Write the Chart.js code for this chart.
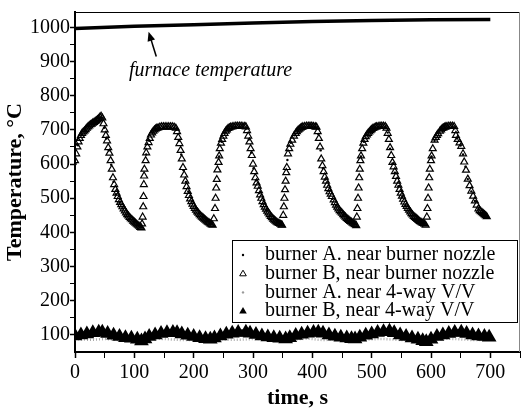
<!DOCTYPE html>
<html>
<head>
<meta charset="utf-8">
<script src="https://cdn.jsdelivr.net/npm/chart.js@4.4.0/dist/chart.umd.min.js"></script>
<style>body{margin:0;background:#fff}</style>
</head>
<body>
<canvas id="area" width="530" height="414"></canvas>
<script>
// legend labels, in the order of the legend box
var seriesNames = ['burner A. near burner nozzle', 'burner B, near burner nozzle',
                   'burner A. near 4-way V/V', 'burner B, near 4-way V/V'];
var furnaceLabel = 'furnace temperature';
var xTicks = [0,50,100,150,200,250,300,350,400,450,500,550,600,650,700,750];
var yTicks = [100,150,200,250,300,350,400,450,500,550,600,650,700,750,800,850,900,950,1000];

// [time s, temperature C]
var furnaceTemp = [[0,997],[100,1003],[200,1008],[300,1013],[400,1017],[500,1020],[600,1022],[700,1023]];

var burnerBNozzle = [
 [0,610],[2,630],[4,650],[6,665],[8,675],[10,684],[12,690],[14,694],[16,697],[18,701],[20,705],[22,709],[24,712],[26,715],[28,717],[30,720],[32,722],[34,725],[36,727],[38,730],[40,733],[42,737],[44,740],[46,735],[48,718],[50,700],[52,684],[54,668],[56,648],[58,632],[60,610],[62,585],[64,560],[66,540],[68,526],[70,515],[72,505],[74,496],[76,488],[78,481],[80,475],[82,469],[84,463],[86,457],[88,452],[90,448],[92,444],[94,440],[96,437],[98,433],[100,430],[102,427],[104,424],[106,421],[108,418],[110,415],[112,413],
 [113,425],[114,445],[115,475],[115.5,505],[116,540],[116.5,565],[117,585],[119,610],[120,633],[122,650],[124,663],[126,675],[128,685],[130,691],[132,696],[134,700],[136,703],[138,705],[140,706],[143,708],[146,709],[149,709],[152,709],[155,709],[158,709],[161,709],[164,709],[167,708],[170,705],[172,695],[174,678],[176,660],[178,640],[180,615],[182,590],[184,568],[186,550],[188,534],[190,520],[192,508],[194,498],[196,490],[198,483],[200,476],[202,470],[204,465],[206,460],[208,456],[210,452],[212,448],[214,445],[216,442],[218,439],[220,436],[222,433],[224,430],[226,428],[228,425],[230,423],[232,421],
 [234,440],[236,470],[237,500],[238,530],[239,555],[240,583],[242,605],[243,624],[244,645],[246,661],[248,672],[250,682],[252,690],[254,696],[256,700],[258,704],[260,706],[262,708],[265,709],[268,710],[271,711],[274,711],[277,711],[280,711],[283,710],[286,710],[288,709],[290,698],[292,682],[294,665],[296,645],[298,625],[300,600],[302,578],[304,560],[306,545],[308,535],[310,522],[312,510],[314,500],[316,490],[318,481],[320,474],[322,468],[324,462],[326,457],[328,452],[330,447],[332,443],[334,439],[336,436],[338,433],[340,430],[342,428],[344,426],[346,424],[348,422],[349,421],
 [351,450],[352,475],[353,500],[354,525],[355,550],[356,575],[357,590],[359,630],[361,645],[363,658],[366,670],[369,682],[372,690],[374,695],[376,699],[378,702],[380,705],[382,707],[384,709],[387,710],[390,711],[393,711],[396,711],[399,711],[402,710],[405,709],[407,708],[409,695],[411,675],[413,650],[415,615],[417,595],[419,578],[421,562],[423,550],[425,538],[427,528],[429,519],[431,512],[433,505],[436,495],[438,487],[440,480],[442,474],[444,469],[446,464],[448,460],[450,456],[452,452],[454,448],[456,445],[458,441],[460,438],[462,435],[464,432],[466,430],[468,427],[470,425],[472,423],[474,420],
 [475,445],[476,470],[477,500],[478,530],[479,560],[480,585],[481,610],[482,624],[484,645],[486,661],[488,672],[490,680],[492,685],[494,690],[496,694],[498,698],[500,701],[502,704],[504,706],[506,708],[508,709],[511,710],[514,711],[517,711],[520,711],[523,710],[525,705],[527,690],[529,672],[531,648],[533,625],[535,605],[537,592],[539,578],[541,564],[543,550],[545,538],[547,526],[549,515],[551,506],[553,497],[555,489],[557,482],[559,476],[561,470],[563,465],[565,460],[567,455],[569,451],[571,447],[573,444],[575,441],[577,438],[579,435],[581,432],[583,430],[585,428],[587,426],[589,424],[591,421],
 [593,445],[594,470],[595,500],[596,530],[597,560],[598,585],[600,610],[601,624],[603,645],[606,670],[608,678],[610,684],[612,689],[615,696],[617,700],[619,704],[621,706],[623,708],[625,709],[627,710],[630,711],[633,711],[636,711],[639,710],[641,698],[642,684],[645,672],[648,662],[651,652],[654,630],[656,606],[659,582],[662,556],[665,537],[668,521],[671,506],[674,492],[677,480],[680,469],[682,464],[684,461],[686,458],[688,455],[690,452],[692,449],[694,446]
];

var burnerANozzle = [
 [1,600],[5,655],[11,686],[17,700],[23,710],[29,718],[35,726],[41,734],[45,736],[49,706],[53,675],[57,640],[61,598],[65,548],[69,512],[75,486],[81,470],[87,452],[93,440],[99,430],[105,421],[111,414],
 [120,628],[125,668],[131,692],[137,702],[143,706],[149,707],[155,707],[161,707],[167,706],[171,700],[175,668],[179,628],[183,582],[187,548],[191,520],[197,490],[203,470],[209,455],[215,442],[221,432],[227,425],
 [243,622],[247,665],[253,692],[259,704],[265,708],[271,709],[277,709],[283,709],[289,704],[293,672],[297,634],[301,588],[305,552],[311,515],[317,484],[323,464],[329,449],[335,437],[341,429],[347,423],
 [358,612],[364,662],[370,684],[376,697],[382,706],[388,708],[394,709],[400,709],[406,708],[410,688],[414,640],[418,588],[422,555],[428,522],[434,498],[440,479],[446,464],[452,451],[458,441],[464,432],[470,425],
 [482,622],[487,665],[493,685],[499,697],[505,705],[511,708],[517,709],[523,708],[527,692],[531,645],[535,602],[539,575],[545,535],[551,503],[557,480],[563,464],[569,450],[575,440],[581,431],[587,425],
 [601,622],[606,668],[612,690],[618,702],[624,707],[630,709],[636,709],[640,705],[644,675],[650,654],[654,628],[658,592],[662,556],[668,520],[674,492],[680,469],[686,457],[692,448]
];

var burnerBValve = [
 [0,97],[10,100],[20,103],[30,106],[40,108],[46,108],[55,104],[65,99],[75,95],[85,92],[95,90],[105,87],[112,82],[118,88],[125,95],[135,100],[145,104],[155,106],[165,107],[172,106],[180,103],[190,99],[200,95],[210,92],[220,89],[228,87],[235,91],[245,97],[255,102],[265,105],[275,107],[288,108],[295,105],[305,101],[315,97],[325,94],[335,92],[345,90],[355,88],[362,92],[372,98],[382,102],[392,105],[402,107],[410,108],[418,105],[428,100],[438,96],[448,93],[458,91],[466,89],[472,88],[480,93],[490,99],[500,103],[510,107],[520,109],[530,111],[538,106],[548,100],[558,95],[568,91],[578,87],[586,83],[592,80],[600,87],[610,95],[620,100],[630,104],[640,107],[651,108],[660,104],[670,100],[680,97],[690,95],[698,93]
];

var burnerAValve = [
 [0,88],[10,87],[20,86],[30,86],[40,87],[50,88],[60,87],[70,85],[80,84],[90,84],[100,85],[110,86],[120,87],[130,89],[140,89],[150,88],[160,87],[170,86],[180,85],[190,85],[200,86],[210,87],[220,88],[230,88],[240,88],[250,87],[260,86],[270,86],[280,86],[290,87],[300,88],[310,88],[320,87],[330,86],[340,85],[350,84],[360,85],[370,87],[380,88],[390,89],[400,88],[410,86],[420,85],[430,86],[440,87],[450,88],[460,88],[470,87],[480,86],[490,86],[500,87],[510,88],[520,88],[530,87],[540,86],[550,85],[560,85],[570,86],[580,87],[590,86],[600,85],[610,86],[620,88],[630,89],[640,88],[650,87],[660,86],[670,85],[680,85],[690,86],[700,87]
];

// where the "furnace temperature" note and its arrow sit, in data units
var noteAt = [91, 872];
var arrowFrom = [137, 915];
var arrowTo = [124, 987];

var pts = function (a) { return a.map(function (p) { return {x: p[0], y: p[1]}; }); };
var serif = '"Liberation Serif", "Times New Roman", serif';
Chart.defaults.font.family = serif;
Chart.defaults.color = '#000';

function marker(ctx, style, x, y, r, fill, stroke) {
  ctx.beginPath();
  if (style === 'triangle') {
    ctx.moveTo(x, y - r);
    ctx.lineTo(x + r * 0.95, y + r * 0.6);
    ctx.lineTo(x - r * 0.95, y + r * 0.6);
    ctx.closePath();
  } else {
    ctx.arc(x, y, r, 0, Math.PI * 2);
  }
  if (fill) { ctx.fillStyle = fill; ctx.fill(); }
  if (stroke) { ctx.strokeStyle = stroke; ctx.lineWidth = 1; ctx.stroke(); }
}

var frame = {
  id: 'frame',
  afterDraw: function (chart) {
    var ctx = chart.ctx, a = chart.chartArea;
    var xs = chart.scales.x, ys = chart.scales.y;
    ctx.save();
    // top and right sides of the box
    ctx.strokeStyle = '#000'; ctx.lineWidth = 1;
    ctx.beginPath(); ctx.moveTo(a.left, a.top + 0.5); ctx.lineTo(a.right, a.top + 0.5); ctx.stroke();
    ctx.strokeStyle = '#888';
    ctx.beginPath(); ctx.moveTo(a.right - 0.5, a.top); ctx.lineTo(a.right - 0.5, a.bottom); ctx.stroke();

    // note + arrow
    ctx.fillStyle = '#000';
    ctx.font = 'italic 20px ' + serif;
    ctx.textBaseline = 'middle';
    ctx.fillText(furnaceLabel, xs.getPixelForValue(noteAt[0]), ys.getPixelForValue(noteAt[1]));
    var x1 = xs.getPixelForValue(arrowFrom[0]), y1 = ys.getPixelForValue(arrowFrom[1]);
    var x2 = xs.getPixelForValue(arrowTo[0]), y2 = ys.getPixelForValue(arrowTo[1]);
    var ang = Math.atan2(y2 - y1, x2 - x1);
    ctx.strokeStyle = '#000'; ctx.lineWidth = 1.5;
    ctx.beginPath(); ctx.moveTo(x1, y1); ctx.lineTo(x2 - 6 * Math.cos(ang), y2 - 6 * Math.sin(ang)); ctx.stroke();
    ctx.beginPath();
    ctx.moveTo(x2, y2);
    ctx.lineTo(x2 - 10 * Math.cos(ang - 0.4), y2 - 10 * Math.sin(ang - 0.4));
    ctx.lineTo(x2 - 10 * Math.cos(ang + 0.4), y2 - 10 * Math.sin(ang + 0.4));
    ctx.closePath(); ctx.fill();

    // legend box
    var bx = a.left + 157, by = a.top + 228, bw = 285, bh = 82;
    ctx.fillStyle = '#fff'; ctx.fillRect(bx, by, bw, bh);
    ctx.strokeStyle = '#000'; ctx.lineWidth = 1;
    ctx.strokeRect(bx + 0.5, by + 0.5, bw, bh);
    var looks = [['circle', 1.2, '#000', null], ['triangle', 3.5, null, '#000'],
                 ['circle', 1.2, '#999', null], ['triangle', 4, '#000', null]];
    ctx.font = '20px ' + serif;
    seriesNames.forEach(function (name, i) {
      var ry = by + 15 + i * 18.7;
      var lk = looks[i];
      marker(ctx, lk[0], bx + 11, ry, lk[1], lk[2], lk[3]);
      ctx.fillStyle = '#000';
      ctx.fillText(name, bx + 33, ry);
    });
    ctx.restore();
  }
};

var ctx = document.getElementById('area').getContext('2d');
var myChart = new Chart(ctx, {
  type: 'scatter',
  data: {
    datasets: [
      { label: furnaceLabel, data: pts(furnaceTemp), showLine: true, pointRadius: 0,
        borderColor: '#000', borderWidth: 3.5 },
      { label: seriesNames[0], data: pts(burnerANozzle), pointStyle: 'circle', pointRadius: 1.2,
        borderWidth: 0, backgroundColor: '#000' },
      { label: seriesNames[1], data: pts(burnerBNozzle), pointStyle: 'triangle', pointRadius: 4,
        borderWidth: 1.2, borderColor: '#000', backgroundColor: 'rgba(0,0,0,0)' },
      { label: seriesNames[3], data: pts(burnerBValve), showLine: true, borderColor: '#000', borderWidth: 6,
        pointStyle: 'triangle', pointRadius: 2.5, backgroundColor: '#000' },
      { label: seriesNames[2], data: pts(burnerAValve), showLine: true, borderColor: '#aaa', borderWidth: 2.5,
        borderDash: [1, 2], pointRadius: 0 }
    ]
  },
  options: {
    responsive: false,
    animation: false,
    events: [],
    layout: { padding: { top: 7, right: 2 } },
    plugins: { legend: { display: false }, tooltip: { enabled: false } },
    scales: {
      x: {
        min: 0, max: 750,
        afterBuildTicks: function (s) { s.ticks = xTicks.map(function (v) { return {value: v}; }); },
        afterFit: function (s) { s.height = 62; },
        ticks: { autoSkip: false, maxRotation: 0, padding: 3, font: { size: 20 },
                 callback: function (v) { return v % 100 === 0 && v <= 700 ? v : ''; } },
        grid: { drawOnChartArea: false, tickLength: 6, color: '#000',
                tickWidth: function (c) { return c.tick && c.tick.value % 100 ? 1 : 1.5; } },
        border: { color: '#000', width: 2 },
        title: { display: true, text: 'time, s', font: { size: 22, weight: 'bold' }, padding: { top: 0, bottom: 2 } }
      },
      y: {
        min: 50, max: 1045,
        afterBuildTicks: function (s) { s.ticks = yTicks.map(function (v) { return {value: v}; }); },
        afterFit: function (s) { s.width = 75; },
        ticks: { autoSkip: false, padding: 0, font: { size: 20 },
                 callback: function (v) { return v % 100 === 0 ? v : ''; } },
        grid: { drawOnChartArea: false, tickLength: 5, color: '#000',
                tickWidth: function (c) { return c.tick && c.tick.value % 100 ? 1 : 1.5; } },
        border: { color: '#000', width: 2 },
        title: { display: true, text: 'Temperature, °C', font: { size: 22, weight: 'bold' }, padding: { top: 2, bottom: 2 } }
      }
    }
  },
  plugins: [frame]
});
</script>
</body>
</html>
